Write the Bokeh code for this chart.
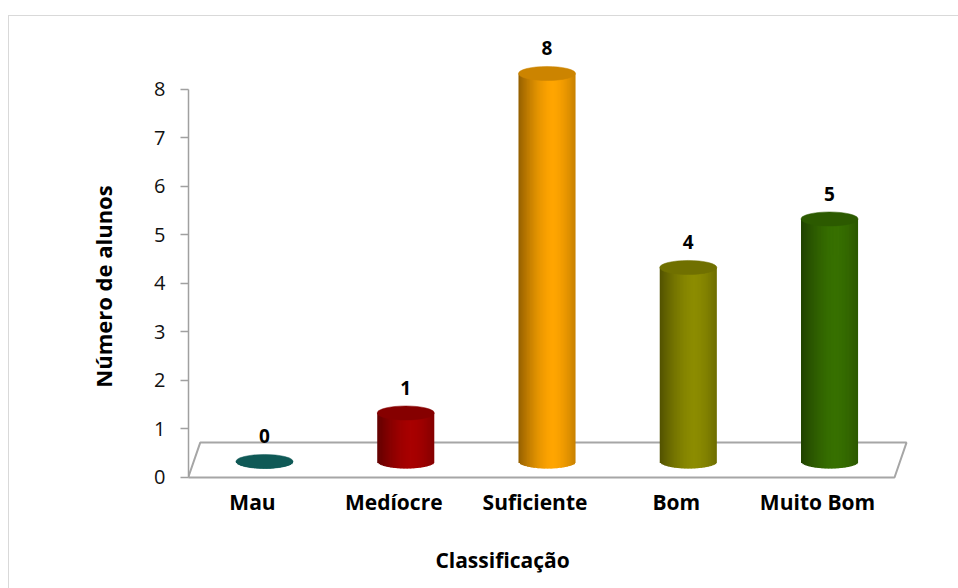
import numpy as np
from bokeh.plotting import figure
from bokeh.models import ColumnDataSource, Range1d, FixedTicker, InlineStyleSheet
from bokeh.core.properties import value
from bokeh.embed import file_html
from bokeh.resources import INLINE

# ---- data -------------------------------------------------------------
categories = ["Mau", "Medíocre", "Suficiente", "Bom", "Muito Bom"]
counts = [0, 1, 8, 4, 5]
y_ticks = [0, 1, 2, 3, 4, 5, 6, 7, 8]
bar_colors = ["#136f6b", "#a80000", "#ffa500", "#8c8c00", "#377000"]
x_title = "Classificação"
y_title = "Número de alunos"

# ---- 3-D look (data units) -------------------------------------------
FONT = "Open Sans"
DEPTH = 0.33        # cylinders stand this far back on the floor
FLOOR_BACK = 0.72   # height of the floor's back edge
FLOOR_SKEW = 0.085  # horizontal shift of the floor's back edge
HALF_W = 0.202      # cylinder radius along x
HALF_H = 0.145      # half height of the elliptical caps
N_SLICES = 40

def hex_to_rgb(h):
    h = h.lstrip("#")
    return np.array([int(h[k:k + 2], 16) for k in (0, 2, 4)], dtype=float)

def rgb_to_hex(rgb):
    rgb = np.clip(np.round(rgb), 0, 255).astype(int)
    return "#%02x%02x%02x" % tuple(rgb)

def side_shade(color, t):
    """Lit-cylinder shading across the body, t in [0, 1] from left to right."""
    peak = 0.6
    if t < peak:
        f = 1.0 - 0.42 * ((peak - t) / peak) ** 1.6
    else:
        f = 1.0 - 0.22 * ((t - peak) / (1 - peak)) ** 1.6
    return rgb_to_hex(hex_to_rgb(color) * f)

def cap_shade(color):
    return rgb_to_hex(hex_to_rgb(color) * 0.8)

n = len(categories)
idx = list(range(n))

# the plotting frame spans nearly the whole canvas so that every text fits in it
p = figure(width=958, height=588, output_backend="svg", toolbar_location=None,
           x_range=Range1d(-0.538, 4.913), y_range=Range1d(-1.959, 9.835),
           min_border_left=188, min_border_right=0,
           min_border_top=0, min_border_bottom=16)
p.background_fill_color = "white"
p.border_fill_color = "white"
p.outline_line_color = None
p.xgrid.visible = False
p.ygrid.visible = False
p.xaxis.visible = False

# y axis
yax = p.yaxis[0]
yax.ticker = FixedTicker(ticks=y_ticks)
yax.bounds = (min(y_ticks), max(y_ticks))
yax.axis_line_color = "#a0a0a0"
yax.axis_line_width = 1.5
yax.major_tick_line_color = "#a0a0a0"
yax.major_tick_line_width = 1.5
yax.major_tick_out = 8
yax.major_tick_in = 0
yax.minor_tick_line_color = None
yax.major_label_standoff = 15
yax.major_label_text_font = FONT
yax.major_label_text_font_size = "20px"
yax.major_label_text_color = "#111111"
yax.axis_label = y_title
yax.axis_label_standoff = 33
yax.axis_label_text_font = FONT
yax.axis_label_text_font_style = "bold"
yax.axis_label_text_font_size = "22px"
yax.axis_label_text_color = "black"

# floor
fx = [-0.54, n - 0.54, n - 0.54 + FLOOR_SKEW, -0.54 + FLOOR_SKEW]
fy = [0, 0, FLOOR_BACK, FLOOR_BACK]
p.patch(fx, fy, fill_color="white", line_color="#a6a6a6", line_width=2)

# cylinders: shaded body slices (each overlapping the next) + elliptical cap
u = np.linspace(-1, 1, N_SLICES + 1)
uc = (u[:-1] + u[1:]) / 2
step = u[1] - u[0]
right_u = np.minimum(u[1:] + 0.6 * step, 1.0)
body = dict(left=[], right=[], bottom=[], top=[], color=[])
for i, (v, c) in enumerate(zip(counts, bar_colors)):
    body["left"] += list(i + HALF_W * u[:-1])
    body["right"] += list(i + HALF_W * right_u)
    body["bottom"] += list(DEPTH - HALF_H * np.sqrt(1 - uc ** 2))
    body["top"] += [DEPTH + v] * N_SLICES
    body["color"] += [side_shade(c, (t + 1) / 2) for t in uc]
p.quad(left="left", right="right", bottom="bottom", top="top",
       fill_color="color", line_color=None, source=ColumnDataSource(body))

caps = ColumnDataSource(dict(
    x=idx, y=[DEPTH + v for v in counts],
    color=[cap_shade(c) for c in bar_colors]))
p.ellipse(x="x", y="y", width=2 * HALF_W, height=2 * HALF_H,
          fill_color="color", line_color="color", line_width=0.5, source=caps)

# value labels above each cylinder
vals = ColumnDataSource(dict(x=idx, y=[DEPTH + v for v in counts],
                             text=[str(v) for v in counts]))
p.text(x="x", y="y", text="text", source=vals, y_offset=-25,
       text_align="center", text_baseline="middle",
       text_font=value(FONT), text_font_style="bold",
       text_font_size="19px", text_color="black")

# category labels under the floor
cats = ColumnDataSource(dict(x=idx, y=[0] * n, text=categories))
p.text(x="x", y="y", text="text", source=cats, x_offset=-12, y_offset=25,
       text_align="center", text_baseline="middle",
       text_font=value(FONT), text_font_style="bold",
       text_font_size="21px", text_color="black")

# x axis title
p.text(x=[1.685], y=[-1.711], text=[x_title], text_align="center",
       text_baseline="middle", text_font=value(FONT),
       text_font_style="bold", text_font_size="21px", text_color="black")

# light chart-area border
p.stylesheets.append(InlineStyleSheet(css="""
:host { position: relative; overflow: hidden; }
:host::after { content: ""; position: absolute; left: 8px; top: 15px;
               right: -6px; bottom: -6px; border: 1px solid #d9d9d9;
               pointer-events: none; }
"""))

open("out.html", "w").write(file_html(p, INLINE))
